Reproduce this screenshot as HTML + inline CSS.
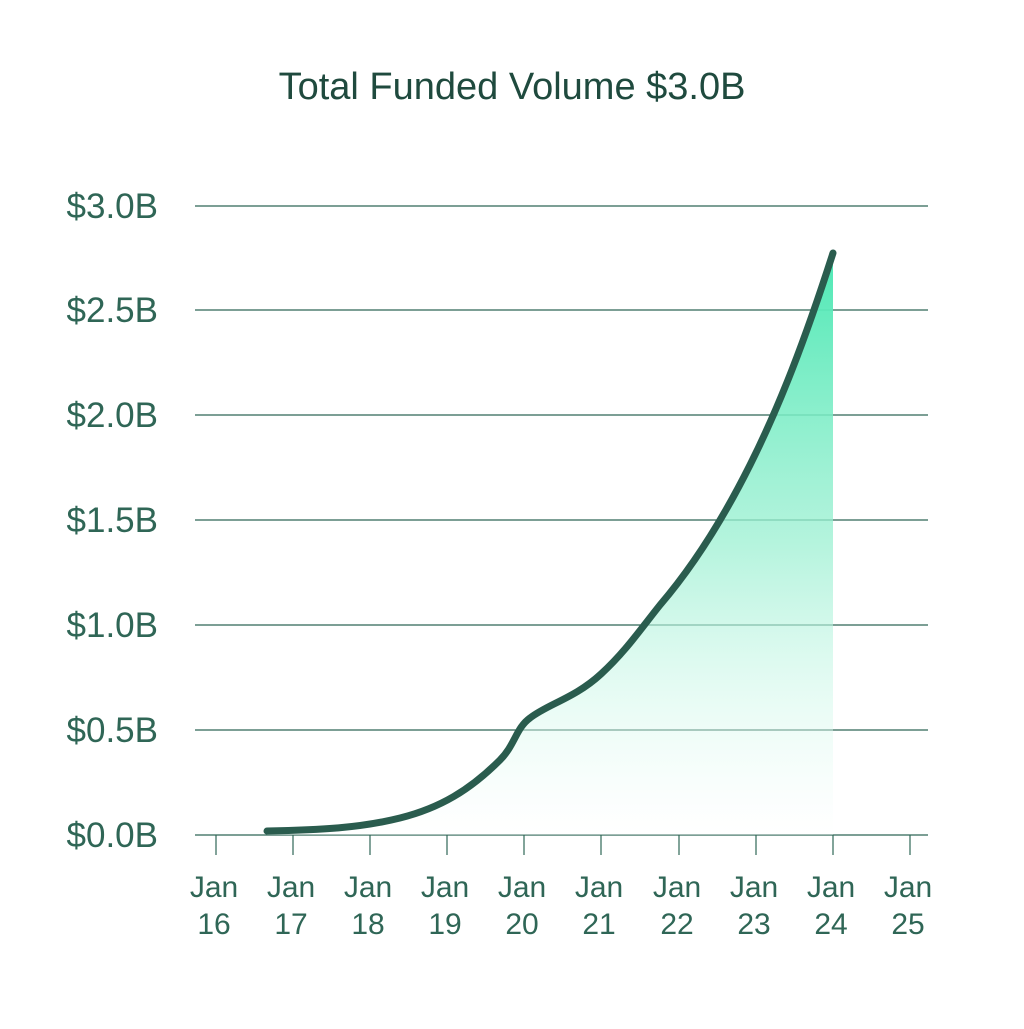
<!DOCTYPE html>
<html><head><meta charset="utf-8"><style>
html,body{margin:0;padding:0;background:#fff;}
</style></head><body>
<svg width="1024" height="1024" viewBox="0 0 1024 1024" xmlns="http://www.w3.org/2000/svg" font-family="Liberation Sans, sans-serif">
<defs>
<linearGradient id="g" x1="0" y1="0" x2="0" y2="1" gradientUnits="objectBoundingBox">
<stop offset="0" stop-color="#4de8b4"/>
<stop offset="0.5" stop-color="#9cf0d2" stop-opacity="0.75"/>
<stop offset="1" stop-color="#ffffff" stop-opacity="0.3"/>
</linearGradient>
</defs>
<rect width="1024" height="1024" fill="#fff"/>
<text x="512" y="99" text-anchor="middle" font-size="38" fill="#1f4a3e">Total Funded Volume $3.0B</text>
<g stroke="#2f6656" stroke-width="1.2">
<line x1="195" y1="206" x2="928" y2="206"/>
<line x1="195" y1="310" x2="928" y2="310"/>
<line x1="195" y1="415" x2="928" y2="415"/>
<line x1="195" y1="520" x2="928" y2="520"/>
<line x1="195" y1="625" x2="928" y2="625"/>
<line x1="195" y1="730" x2="928" y2="730"/>
<line x1="195" y1="835" x2="928" y2="835"/>
<line x1="216" y1="835" x2="216" y2="855"/>
<line x1="293" y1="835" x2="293" y2="855"/>
<line x1="370" y1="835" x2="370" y2="855"/>
<line x1="447" y1="835" x2="447" y2="855"/>
<line x1="524" y1="835" x2="524" y2="855"/>
<line x1="601" y1="835" x2="601" y2="855"/>
<line x1="679" y1="835" x2="679" y2="855"/>
<line x1="756" y1="835" x2="756" y2="855"/>
<line x1="833" y1="835" x2="833" y2="855"/>
<line x1="910" y1="835" x2="910" y2="855"/>
</g>
<g font-size="35" fill="#2f6656" text-anchor="end">
<text x="158" y="218">$3.0B</text>
<text x="158" y="322">$2.5B</text>
<text x="158" y="427">$2.0B</text>
<text x="158" y="532">$1.5B</text>
<text x="158" y="637">$1.0B</text>
<text x="158" y="742">$0.5B</text>
<text x="158" y="847">$0.0B</text>
</g>
<g font-size="30" fill="#2f6656" text-anchor="middle">
<text x="214" y="897">Jan</text><text x="214" y="934">16</text>
<text x="291" y="897">Jan</text><text x="291" y="934">17</text>
<text x="368" y="897">Jan</text><text x="368" y="934">18</text>
<text x="445" y="897">Jan</text><text x="445" y="934">19</text>
<text x="522" y="897">Jan</text><text x="522" y="934">20</text>
<text x="599" y="897">Jan</text><text x="599" y="934">21</text>
<text x="677" y="897">Jan</text><text x="677" y="934">22</text>
<text x="754" y="897">Jan</text><text x="754" y="934">23</text>
<text x="831" y="897">Jan</text><text x="831" y="934">24</text>
<text x="908" y="897">Jan</text><text x="908" y="934">25</text>
</g>
<path d="M267,831 C320,830 360,828 400,818 C440,808 470,790 500,760 C515,745 516,728 530,718 C548,704 575,698 601,674 C625,652 640,630 660,605 C690,570 720,525 750,465 C780,405 805,340 833,253 L833,835 L267,835 Z" fill="url(#g)"/>
<path d="M267,831 C320,830 360,828 400,818 C440,808 470,790 500,760 C515,745 516,728 530,718 C548,704 575,698 601,674 C625,652 640,630 660,605 C690,570 720,525 750,465 C780,405 805,340 833,253" fill="none" stroke="#2a5c4e" stroke-width="7" stroke-linecap="round" stroke-linejoin="round"/>
</svg>
</body></html>
